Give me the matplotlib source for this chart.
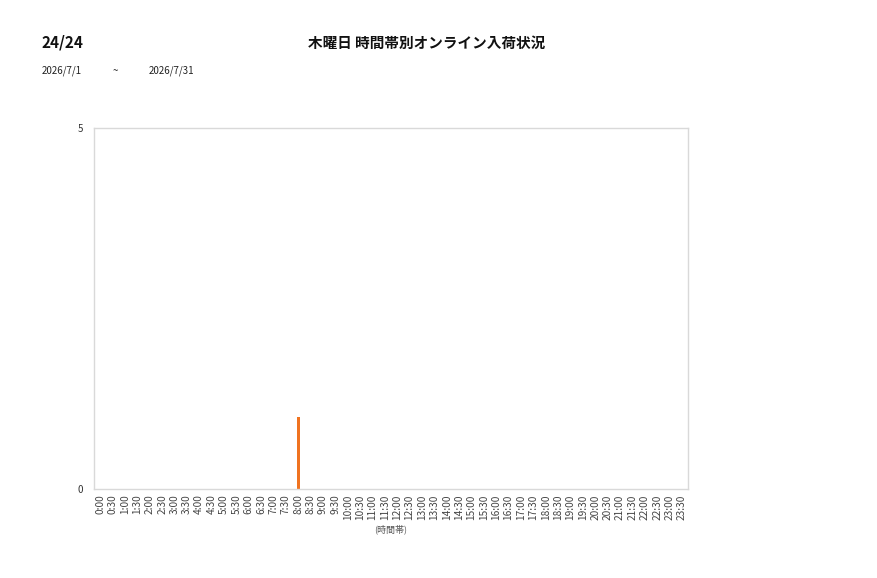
import matplotlib
matplotlib.use("Agg")
import matplotlib.pyplot as plt

plt.rcParams['font.family'] = ['Noto Sans CJK JP', 'DejaVu Sans']

time_labels = [f"{h}:{m:02d}" for h in range(24) for m in (0, 30)]
values = [0] * 48
values[16] = 1  # 8:00

page_label = "24/24"
title = "木曜日 時間帯別オンライン入荷状況"
date_from = "2026/7/1"
date_to = "2026/7/31"
x_label = "(時間帯)"

fig = plt.figure(figsize=(8.77, 5.78), dpi=100)
ax = fig.add_axes([94/877, 1-489/578, (688-94)/877, (489-128)/578])

x = list(range(len(time_labels)))
ax.bar(x, values, width=0.22, color='#F07320')
ax.set_xlim(-0.5, len(time_labels) - 0.5)
ax.set_ylim(0, 5)
ax.set_yticks([0, 5])
ax.set_yticklabels(['0', '5'], fontsize=7, color='#333333')
ax.set_xticks(x)
ax.set_xticklabels(time_labels, rotation=90, fontsize=7.3, color='#444444')
ax.tick_params(length=0, pad=4)
ax.tick_params(axis='y', pad=8)
for s in ax.spines.values():
    s.set_color('#d9d9d9')
    s.set_linewidth(1)
ax.set_xlabel(x_label, fontsize=6.5, color='#555555', labelpad=3)

fig.text(42/877, 1-43/578, page_label, fontsize=11, fontweight='bold', va='center', ha='left', color='#111111')
fig.text(427/877, 1-43/578, title, fontsize=10.5, fontweight='bold', va='center', ha='center', color='#111111')
fig.text(42/877, 1-71/578, date_from, fontsize=7, va='center', ha='left', color='#222222')
fig.text(115/877, 1-71/578, "~", fontsize=7, va='center', ha='center', color='#222222')
fig.text(149/877, 1-71/578, date_to, fontsize=7, va='center', ha='left', color='#222222')

fig.savefig("out.png", dpi=100)
